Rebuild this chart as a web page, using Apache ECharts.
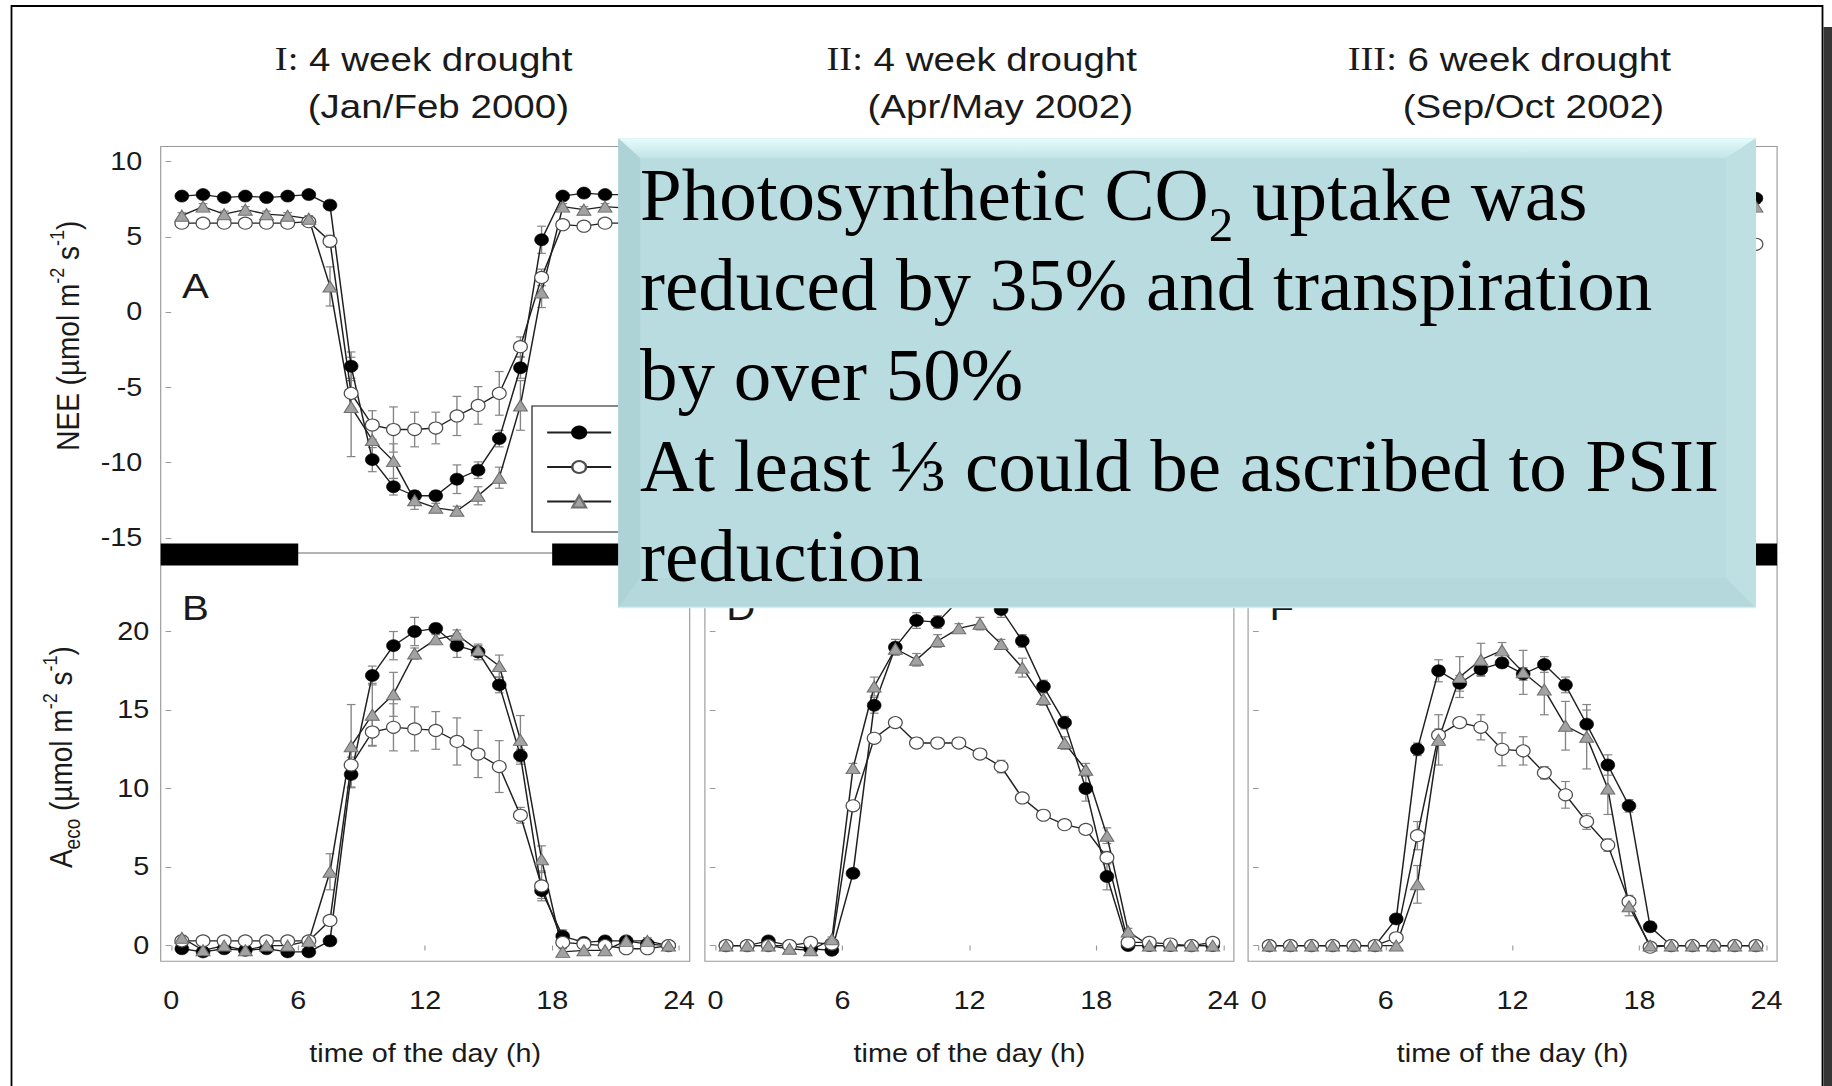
<!DOCTYPE html>
<html>
<head>
<meta charset="utf-8">
<title>Ecosystem CO2 exchange during three drought periods</title>
<script src="https://cdn.jsdelivr.net/npm/echarts@6/dist/echarts.min.js"></script>
<style>
  html, body { margin: 0; padding: 0; background: #fff; width: 1832px; height: 1086px; overflow: hidden; }
  #plot { position: absolute; left: 0; top: 0; height: 1086px; transform-origin: 0 0; }
  #note { position: absolute; left: 0; top: 0; width: 1832px; height: 1086px; }
</style>
</head>
<body>
<div id="plot"></div>
<div id="note"></div>
<script>
// The figure is drawn slightly wider than tall (horizontal stretch of the whole plot).
const STRETCH = 1.15;
const X_MIN = -0.5, X_MAX = 24.5;

// ---- axes / categories ----
const hours = [0.5, 1.5, 2.5, 3.5, 4.5, 5.5, 6.5, 7.5, 8.5, 9.5, 10.5, 11.5,
               12.5, 13.5, 14.5, 15.5, 16.5, 17.5, 18.5, 19.5, 20.5, 21.5, 22.5, 23.5];
const hourTicks = [0, 6, 12, 18, 24];
const neeTicks = [-15, -10, -5, 0, 5, 10];
const aecoTicks = [0, 5, 10, 15, 20];
const neeRange = [-16, 11];
const aecoRange = [-1, 25];
const nightSpans = [[X_MIN, 6], [18, X_MAX]];
const seriesNames = ['before drought', 'drought', 'after rewetting'];
const columnTitles = [
  ['I:', ' 4 week drought', '(Jan/Feb 2000)'],
  ['II:', ' 4 week drought', '(Apr/May 2002)'],
  ['III:', ' 6 week drought', '(Sep/Oct 2002)']
];
// C and E sit entirely under the statement box, so they are not lettered
const panelLetters = [['A', null, null], ['B', 'D', 'F']];
const timeTitle = 'time of the day (h)';

// ---- NEE, Jan/Feb 2000 ----
const neeJanFebPre  = [7.7, 7.8, 7.6, 7.7, 7.6, 7.7, 7.8, 7.1, -3.6, -9.8, -11.6, -12.2, -12.2, -11.1, -10.5, -8.4, -3.7, 4.8, 7.7, 7.9, 7.8, 7.8, 7.7, 7.8];
const neeJanFebDry  = [5.9, 5.9, 5.9, 5.9, 5.9, 5.9, 6.0, 4.7, -5.4, -7.5, -7.8, -7.8, -7.7, -6.9, -6.2, -5.4, -2.3, 2.3, 5.8, 5.7, 5.9, 5.9, 5.8, 5.9];
const neeJanFebPost = [6.4, 7.0, 6.5, 6.8, 6.5, 6.4, 6.2, 1.7, -6.3, -8.5, -9.9, -12.5, -13.0, -13.2, -12.2, -11.0, -6.2, 1.3, 7.0, 6.8, 7.0, 6.9, 6.9, 6.8];
const errNeeJanFebPre  = [0.2, 0.2, 0.2, 0.2, 0.2, 0.2, 0.2, 0.3, 0.95, 0.8, 0.55, 0.3, 0.3, 0.95, 0.55, 0.55, 0.7, 0.9, 0.2, 0.2, 0.2, 0.2, 0.2, 0.2];
const errNeeJanFebDry  = [0.3, 0.3, 0.3, 0.3, 0.3, 0.3, 0.3, 0.4, 1.0, 0.95, 1.5, 1.15, 1.05, 1.3, 1.25, 1.45, 0.65, 0.55, 0.3, 0.3, 0.3, 0.3, 0.3, 0.3];
const errNeeJanFebPost = [0.2, 0.2, 0.2, 0.2, 0.2, 0.2, 0.2, 1.3, 3.3, 1.3, 1.15, 0.6, 0.3, 0.3, 0.6, 0.7, 1.65, 1.0, 0.2, 0.2, 0.2, 0.2, 0.2, 0.2];

// ---- NEE, Apr/May 2002 ----
const neeAprMayPre  = [8.1, 8.0, 7.8, 8.1, 8.2, 8.3, 3.4, -7.3, -11.0, -12.6, -12.5, -13.9, -14.2, -13.3, -11.4, -8.5, -6.2, -2.0, 3.7, 8.0, 8.1, 8.0, 8.1, 8.0];
const neeAprMayDry  = [6.0, 6.0, 6.1, 6.0, 5.8, 5.9, -2.9, -7.1, -8.2, -6.9, -7.0, -6.9, -6.2, -5.4, -3.5, -2.3, -1.7, -1.4, 0.4, 5.8, 5.9, 6.0, 6.0, 5.8];
const neeAprMayPost = [7.0, 7.0, 7.0, 7.2, 7.2, 6.6, -4.3, -9.5, -11.9, -11.2, -12.4, -13.1, -13.5, -12.2, -10.7, -8.6, -5.8, -4.2, 0.0, 6.1, 7.0, 7.0, 7.0, 7.0];
const errNeeAprMayPre  = [0.2, 0.2, 0.2, 0.2, 0.2, 0.2, 0.6, 0.7, 0.6, 0.5, 0.5, 0.6, 0.5, 0.6, 0.5, 0.5, 0.5, 0.6, 0.7, 0.2, 0.2, 0.2, 0.2, 0.2];
const errNeeAprMayDry  = [0.2, 0.2, 0.2, 0.2, 0.2, 0.2, 0.5, 0.4, 0.4, 0.4, 0.3, 0.4, 0.4, 0.5, 0.4, 0.3, 0.3, 0.3, 0.4, 0.2, 0.2, 0.2, 0.2, 0.2];
const errNeeAprMayPost = [0.2, 0.2, 0.2, 0.2, 0.2, 0.2, 0.6, 0.7, 0.5, 0.5, 0.4, 0.4, 0.4, 0.5, 0.6, 0.5, 0.5, 0.6, 0.6, 0.3, 0.2, 0.2, 0.2, 0.2];

// ---- NEE, Sep/Oct 2002 ----
const neeSepOctPre  = [7.6, 7.6, 7.5, 7.6, 7.5, 7.6, 6.0, -4.9, -9.9, -9.1, -10.0, -10.4, -9.7, -10.3, -9.0, -6.5, -3.9, -1.4, 6.3, 7.5, 7.6, 7.5, 7.6, 7.55];
const neeSepOctDry  = [4.6, 4.5, 4.6, 4.5, 4.5, 4.6, 4.1, -2.4, -8.9, -9.6, -9.4, -7.9, -7.8, -6.5, -5.1, -3.4, -1.8, 1.7, 4.6, 4.5, 4.6, 4.5, 4.6, 4.5];
const neeSepOctPost = [7.0, 7.0, 7.1, 7.0, 6.9, 7.0, 7.0, 3.1, -6.1, -10.1, -11.2, -11.8, -10.4, -9.3, -7.0, -6.3, -3.0, 4.5, 7.0, 7.0, 7.1, 7.0, 7.0, 7.0];
const errNeeSepOctPre  = [0.2, 0.2, 0.2, 0.2, 0.2, 0.2, 0.4, 0.8, 0.7, 0.6, 0.5, 0.4, 0.5, 0.5, 0.6, 0.9, 0.7, 0.5, 0.4, 0.2, 0.2, 0.2, 0.2, 0.2];
const errNeeSepOctDry  = [0.2, 0.2, 0.2, 0.2, 0.2, 0.2, 0.3, 0.9, 0.5, 0.4, 0.8, 1.0, 0.9, 0.5, 0.8, 0.5, 0.4, 0.4, 0.3, 0.2, 0.2, 0.2, 0.2, 0.2];
const errNeeSepOctPost = [0.2, 0.2, 0.2, 0.2, 0.2, 0.2, 0.2, 1.2, 1.6, 1.3, 1.0, 0.5, 1.4, 1.6, 1.5, 2.0, 1.6, 0.6, 0.2, 0.2, 0.2, 0.2, 0.2, 0.2];

// ---- Aeco, Jan/Feb 2000 ----
const aecoJanFebPre  = [-0.2, -0.4, -0.2, -0.3, -0.2, -0.4, -0.4, 0.3, 10.9, 17.2, 19.1, 20.0, 20.2, 19.1, 18.7, 16.6, 12.1, 3.5, 0.6, 0.2, 0.3, 0.3, 0.1, 0.0];
const aecoJanFebDry  = [0.3, 0.3, 0.3, 0.3, 0.3, 0.3, 0.3, 1.6, 11.5, 13.6, 13.9, 13.8, 13.7, 13.0, 12.2, 11.4, 8.3, 3.8, 0.2, 0.1, 0.0, -0.2, -0.2, 0.0];
const aecoJanFebPost = [0.5, -0.3, 0.0, -0.3, 0.0, 0.0, 0.3, 4.7, 12.7, 14.7, 16.0, 18.6, 19.5, 19.8, 18.8, 17.8, 13.1, 5.5, -0.4, -0.3, -0.3, 0.3, 0.3, 0.0];
const errAecoJanFebPre  = [0.15, 0.15, 0.15, 0.15, 0.15, 0.15, 0.15, 0.3, 0.8, 0.6, 0.9, 0.9, 0.3, 0.75, 0.5, 0.5, 0.4, 0.5, 0.4, 0.2, 0.2, 0.2, 0.15, 0.15];
const errAecoJanFebDry  = [0.2, 0.2, 0.2, 0.2, 0.2, 0.2, 0.2, 0.3, 0.5, 0.85, 1.5, 1.4, 1.2, 1.5, 1.5, 1.65, 0.5, 0.95, 0.2, 0.2, 0.2, 0.2, 0.2, 0.2];
const errAecoJanFebPost = [0.15, 0.15, 0.15, 0.15, 0.15, 0.15, 0.15, 1.15, 2.65, 2.0, 1.4, 0.35, 0.3, 0.3, 0.3, 0.7, 1.55, 0.85, 0.2, 0.2, 0.2, 0.2, 0.2, 0.15];

// ---- Aeco, Apr/May 2002 ----
const aecoAprMayPre  = [0.0, 0.0, 0.3, 0.0, -0.2, -0.3, 4.6, 15.3, 19.0, 20.7, 20.6, 22.0, 22.3, 21.4, 19.4, 16.5, 14.2, 10.0, 4.4, 0.0, 0.0, 0.0, 0.0, 0.0];
const aecoAprMayDry  = [0.0, 0.0, 0.0, 0.0, 0.2, 0.1, 8.9, 13.2, 14.2, 12.9, 12.9, 12.9, 12.2, 11.4, 9.4, 8.3, 7.7, 7.4, 5.6, 0.2, 0.2, 0.1, 0.0, 0.2];
const aecoAprMayPost = [0.0, 0.0, 0.0, -0.2, -0.3, 0.4, 11.3, 16.5, 18.9, 18.2, 19.4, 20.2, 20.5, 19.2, 17.7, 15.7, 12.9, 11.2, 7.0, 0.9, 0.0, 0.0, 0.0, 0.0];
const errAecoAprMayPre  = [0.15, 0.15, 0.15, 0.15, 0.15, 0.15, 0.3, 0.5, 0.5, 0.5, 0.4, 0.4, 0.4, 0.5, 0.4, 0.4, 0.4, 0.8, 0.85, 0.15, 0.15, 0.15, 0.15, 0.15];
const errAecoAprMayDry  = [0.15, 0.15, 0.15, 0.15, 0.15, 0.15, 0.3, 0.3, 0.3, 0.3, 0.3, 0.3, 0.3, 0.4, 0.3, 0.3, 0.3, 0.3, 0.4, 0.15, 0.15, 0.15, 0.15, 0.15];
const errAecoAprMayPost = [0.15, 0.15, 0.15, 0.15, 0.15, 0.15, 0.3, 0.6, 0.4, 0.4, 0.4, 0.3, 0.4, 0.3, 0.6, 0.4, 0.4, 0.4, 0.5, 0.2, 0.15, 0.15, 0.15, 0.15];

// ---- Aeco, Sep/Oct 2002 ----
const aecoSepOctPre  = [0.0, 0.0, 0.0, 0.0, 0.0, 0.0, 1.7, 12.5, 17.5, 16.7, 17.6, 18.0, 17.3, 17.9, 16.6, 14.1, 11.5, 8.9, 1.2, 0.0, 0.0, 0.0, 0.0, 0.0];
const aecoSepOctDry  = [0.0, 0.0, 0.0, 0.0, 0.0, 0.0, 0.5, 7.0, 13.4, 14.2, 13.9, 12.5, 12.4, 11.0, 9.6, 7.9, 6.4, 2.8, -0.1, 0.0, 0.0, 0.0, 0.0, 0.0];
const aecoSepOctPost = [0.0, 0.0, 0.0, 0.0, 0.0, 0.0, 0.0, 3.9, 13.1, 17.1, 18.2, 18.8, 17.4, 16.3, 14.0, 13.3, 10.0, 2.5, 0.0, 0.0, 0.0, 0.0, 0.0, 0.0];
const errAecoSepOctPre  = [0.1, 0.1, 0.1, 0.1, 0.1, 0.1, 0.3, 0.4, 0.7, 0.5, 0.4, 0.3, 0.4, 0.5, 0.5, 0.9, 0.65, 0.4, 0.3, 0.1, 0.1, 0.1, 0.1, 0.1];
const errAecoSepOctDry  = [0.1, 0.1, 0.1, 0.1, 0.1, 0.1, 0.3, 0.9, 0.4, 0.3, 0.8, 1.05, 0.9, 0.4, 0.85, 0.5, 0.4, 0.4, 0.2, 0.1, 0.1, 0.1, 0.1, 0.1];
const errAecoSepOctPost = [0.1, 0.1, 0.1, 0.1, 0.1, 0.1, 0.2, 1.2, 1.6, 1.3, 1.05, 0.5, 1.4, 1.6, 1.55, 2.05, 1.65, 0.6, 0.2, 0.1, 0.1, 0.1, 0.1, 0.1];

// ---- the boxed statement laid over the figure ----
const noteHead = ['Photosynthetic CO', '2', ' uptake was'];
const noteLines = [
  'reduced by 35% and transpiration',
  'by over 50%',
  'At least \u2153 could be ascribed to PSII',
  'reduction'
];

// ---- page geometry (screen pixels) ----
const colLeft = [160.7, 704.9, 1248.1];
const colWidth = 529;
const rowTop = [146.4, 553];
const rowHeight = [406.6, 408.3];
const sx = v => v / STRETCH;

const panels = [
  { row: 0, col: 0, vals: [neeJanFebPre, neeJanFebDry, neeJanFebPost], errs: [errNeeJanFebPre, errNeeJanFebDry, errNeeJanFebPost] },
  { row: 0, col: 1, vals: [neeAprMayPre, neeAprMayDry, neeAprMayPost], errs: [errNeeAprMayPre, errNeeAprMayDry, errNeeAprMayPost] },
  { row: 0, col: 2, vals: [neeSepOctPre, neeSepOctDry, neeSepOctPost], errs: [errNeeSepOctPre, errNeeSepOctDry, errNeeSepOctPost] },
  { row: 1, col: 0, vals: [aecoJanFebPre, aecoJanFebDry, aecoJanFebPost], errs: [errAecoJanFebPre, errAecoJanFebDry, errAecoJanFebPost] },
  { row: 1, col: 1, vals: [aecoAprMayPre, aecoAprMayDry, aecoAprMayPost], errs: [errAecoAprMayPre, errAecoAprMayDry, errAecoAprMayPost] },
  { row: 1, col: 2, vals: [aecoSepOctPre, aecoSepOctDry, aecoSepOctPost], errs: [errAecoSepOctPre, errAecoSepOctDry, errAecoSepOctPost] }
];

const SANS = 'Liberation Sans, Arial, sans-serif';
const SERIF = 'Liberation Serif, Times New Roman, serif';
const INK = '#1a1a1a';
const FRAME = '#9a9a9a';
const ERR = '#858585';

const looks = [
  { symbol: 'circle', symbolSize: 12, itemStyle: { color: '#000', borderColor: '#000', borderWidth: 0.6 } },
  { symbol: 'circle', symbolSize: 12, itemStyle: { color: '#fff', borderColor: '#4d4d4d', borderWidth: 1.1 } },
  { symbol: 'triangle', symbolSize: [12, 11], itemStyle: { color: '#a2a2a2', borderColor: '#6e6e6e', borderWidth: 1 } }
];

const plotEl = document.getElementById('plot');
plotEl.style.width = (1832 / STRETCH) + 'px';
plotEl.style.transform = 'scaleX(' + STRETCH + ')';

const grids = [], xAxes = [], yAxes = [], series = [], graphics = [];

const neeName = '{t|NEE (\u00b5mol m}{p|-2}{t| s}{p|-1}{t|)}';
const aecoName = '{t|A}{b|eco}{t| (\u00b5mol m}{p|-2}{t| s}{p|-1}{t|)}';
const nameRich = {
  t: { fontSize: 28, lineHeight: 38, fontFamily: SANS, color: INK, verticalAlign: 'middle' },
  p: { fontSize: 18, lineHeight: 18, fontFamily: SANS, color: INK, verticalAlign: 'top' },
  b: { fontSize: 19, lineHeight: 19, fontFamily: SANS, color: INK, verticalAlign: 'bottom' }
};

function errorBars(params, api) {
  const x = api.value(0), y = api.value(1), e = api.value(2);
  const lo = api.coord([x, y - e]);
  const hi = api.coord([x, y + e]);
  const cap = 3.8;
  const st = { stroke: ERR, lineWidth: 1.2 };
  return {
    type: 'group',
    children: [
      { type: 'line', shape: { x1: lo[0], y1: lo[1], x2: hi[0], y2: hi[1] }, style: st },
      { type: 'line', shape: { x1: lo[0] - cap, y1: lo[1], x2: lo[0] + cap, y2: lo[1] }, style: st },
      { type: 'line', shape: { x1: hi[0] - cap, y1: hi[1], x2: hi[0] + cap, y2: hi[1] }, style: st }
    ]
  };
}

// black bars marking the dark hours, straddling the shared border of the two rows
function nightBar(params, api) {
  const a = api.coord([api.value(0), neeRange[0]]);
  const b = api.coord([api.value(1), neeRange[0]]);
  return { type: 'rect', shape: { x: a[0], y: a[1] - 9.5, width: b[0] - a[0], height: 22 }, style: { fill: '#000' } };
}

panels.forEach((p, g) => {
  const isTop = p.row === 0;
  const range = isTop ? neeRange : aecoRange;
  const ticks = isTop ? neeTicks : aecoTicks;
  grids.push({
    left: sx(colLeft[p.col]), top: rowTop[p.row],
    width: sx(colWidth), height: rowHeight[p.row],
    show: true, borderColor: FRAME, borderWidth: 1, backgroundColor: 'transparent',
    containLabel: false, outerBoundsMode: 'none'
  });
  xAxes.push({
    type: 'value', gridIndex: g, min: X_MIN, max: X_MAX,
    axisLine: { show: false }, splitLine: { show: false },
    axisTick: isTop ? { show: false } : { show: true, customValues: hourTicks, length: 5, lineStyle: { color: FRAME, width: 1 } },
    axisLabel: isTop ? { show: false } : { show: true, customValues: hourTicks, margin: 27, fontSize: 25, color: INK, fontFamily: SANS },
    name: isTop ? '' : timeTitle, nameLocation: 'middle', nameGap: 80, nameMoveOverlap: false,
    nameTextStyle: { fontSize: 25, color: INK, fontFamily: SANS }
  });
  yAxes.push({
    type: 'value', gridIndex: g, min: range[0], max: range[1],
    axisLine: { show: false }, splitLine: { show: false },
    axisTick: { show: true, customValues: ticks, length: 5, lineStyle: { color: FRAME, width: 1 } },
    axisLabel: { show: p.col === 0, customValues: ticks, margin: isTop ? 16 : 10, fontSize: 25, color: INK, fontFamily: SANS },
    name: p.col === 0 ? (isTop ? neeName : aecoName) : '',
    nameLocation: 'middle', nameRotate: 90, nameGap: isTop ? 62 : 68, nameMoveOverlap: false,
    nameTextStyle: { rich: nameRich, padding: isTop ? [0, 0, 0, 28] : [0, 0, 0, 0] }
  });

  if (isTop) {
    series.push({
      type: 'custom', name: 'night', xAxisIndex: g, yAxisIndex: g, clip: false, silent: true,
      data: nightSpans, encode: { x: [0, 1] }, renderItem: nightBar, z: 5
    });
  }
  p.vals.forEach((vals, k) => {
    series.push({
      type: 'custom', xAxisIndex: g, yAxisIndex: g, silent: true, clip: false,
      dimensions: ['hour', 'value', 'se'],
      data: hours.map((h, i) => [h, vals[i], p.errs[k][i]]),
      encode: { x: 0, y: 1 }, renderItem: errorBars, z: 2
    });
  });
  p.vals.forEach((vals, k) => {
    series.push(Object.assign({
      type: 'line', name: seriesNames[k], xAxisIndex: g, yAxisIndex: g,
      data: hours.map((h, i) => [h, vals[i]]),
      showSymbol: true, showAllSymbol: true, clip: false,
      lineStyle: { color: '#202020', width: 1.3 },
      emphasis: { disabled: true }, z: 3
    }, looks[k]));
  });

  const letter = panelLetters[p.row][p.col];
  if (letter) {
    graphics.push({
      type: 'text', z: 10,
      x: sx(colLeft[p.col]) + 18.5,
      y: rowTop[p.row] + (isTop ? 122 : 37.5),
      style: { text: letter, fontSize: 35, lineHeight: 35, fontFamily: SANS, fill: INK, verticalAlign: 'top' }
    });
  }
});

// column headings
const titleRight = [[572.5, 569], [1137, 1133], [1671, 1664]];
columnTitles.forEach((t, c) => {
  graphics.push({
    type: 'text', z: 10, x: sx(titleRight[c][0]), y: 59,
    style: {
      text: '{r|' + t[0] + '}{s|' + t[1] + '}', align: 'right', verticalAlign: 'middle',
      rich: {
        r: { fontSize: 33.5, fontFamily: SERIF, fill: INK },
        s: { fontSize: 33.5, fontFamily: SANS, fill: INK }
      }
    }
  });
  graphics.push({
    type: 'text', z: 10, x: sx(titleRight[c][1]), y: 106,
    style: { text: t[2], align: 'right', verticalAlign: 'middle', fontSize: 33.5, fontFamily: SANS, fill: INK }
  });
});

const plot = echarts.init(plotEl, null, { renderer: 'svg' });
plot.setOption({
  animation: false,
  backgroundColor: 'transparent',
  grid: grids,
  xAxis: xAxes,
  yAxis: yAxes,
  legend: {
    // the key's labels lie under the statement box; only the symbols and the frame show
    data: seriesNames, orient: 'vertical', selectedMode: false,
    left: sx(532), top: 406,
    itemWidth: sx(64), itemHeight: 15, itemGap: 20.5,
    padding: [19.5, 40, 23.5, sx(14)],
    formatter: () => '',
    borderColor: '#111', borderWidth: 1, backgroundColor: '#fff',
    textStyle: { fontSize: 1, lineHeight: 1, color: INK, fontFamily: SANS }
  },
  graphic: graphics,
  series: series
});

// ---- statement box and slide frame, drawn unstretched on top ----
const box = { x0: 618.3, y0: 138.3, x1: 1756, y1: 608 };
const bev = { top: 20, left: 22, right: 30, bottom: 30 };
const NOTE_SIZE = 75, NOTE_SUB = 49, NOTE_LEFT = 640, NOTE_FIRST = 194.5, NOTE_STEP = 90.2;
const NOTE_LINE_BOX = 68;

const meas = document.createElement('canvas').getContext('2d');
meas.font = NOTE_SIZE + 'px "Liberation Serif"';
const headW = meas.measureText(noteHead[0]).width;
meas.font = NOTE_SUB + 'px "Liberation Serif"';
const subW = meas.measureText(noteHead[1]).width;

const noteStyle = { fontSize: NOTE_SIZE, lineHeight: NOTE_LINE_BOX, fontFamily: SERIF, fill: '#000', verticalAlign: 'middle' };
const noteText = [
  { type: 'text', x: NOTE_LEFT, y: NOTE_FIRST, style: Object.assign({ text: noteHead[0] }, noteStyle) },
  { type: 'text', x: NOTE_LEFT + headW, y: NOTE_FIRST + 30,
    style: { text: noteHead[1], fontSize: NOTE_SUB, lineHeight: 30, fontFamily: SERIF, fill: '#000', verticalAlign: 'middle' } },
  { type: 'text', x: NOTE_LEFT + headW + subW, y: NOTE_FIRST, style: Object.assign({ text: noteHead[2] }, noteStyle) }
].concat(noteLines.map((line, i) => ({
  type: 'text', x: NOTE_LEFT, y: NOTE_FIRST + NOTE_STEP * (i + 1),
  style: Object.assign({ text: line }, noteStyle)
})));

const note = echarts.init(document.getElementById('note'), null, { renderer: 'svg' });
note.setOption({
  animation: false,
  backgroundColor: 'transparent',
  graphic: [
    // slide frame and its shadow
    { type: 'polyline', shape: { points: [[11.5, 1090], [11.5, 6], [1822.5, 6], [1822.5, 1090]] }, style: { stroke: '#000', lineWidth: 1.8, fill: null } },
    { type: 'rect', shape: { x: 1823.5, y: 27, width: 9, height: 1060 }, style: { fill: '#363636' } },
    // bevelled teal box
    { type: 'rect', shape: { x: box.x0, y: box.y0, width: box.x1 - box.x0, height: box.y1 - box.y0 }, style: { fill: '#b8dcdf' } },
    { type: 'polygon', shape: { points: [[box.x0, box.y0], [box.x1, box.y0], [box.x1 - bev.right, box.y0 + bev.top], [box.x0 + bev.left, box.y0 + bev.top]] },
      style: { fill: new echarts.graphic.LinearGradient(0, 0, 0, 1, [{ offset: 0, color: '#e6fbfc' }, { offset: 1, color: '#c3e4e7' }]) } },
    { type: 'polygon', shape: { points: [[box.x0, box.y0], [box.x0 + bev.left, box.y0 + bev.top], [box.x0 + bev.left, box.y1 - bev.bottom], [box.x0, box.y1]] },
      style: { fill: '#aed3d7' } },
    { type: 'polygon', shape: { points: [[box.x1, box.y0], [box.x1, box.y1], [box.x1 - bev.right, box.y1 - bev.bottom], [box.x1 - bev.right, box.y0 + bev.top]] },
      style: { fill: '#bee0e3' } },
    { type: 'polygon', shape: { points: [[box.x0, box.y1], [box.x1, box.y1], [box.x1 - bev.right, box.y1 - bev.bottom], [box.x0 + bev.left, box.y1 - bev.bottom]] },
      style: { fill: '#b4d8db' } },
    { type: 'line', shape: { x1: box.x0, y1: box.y1 - 0.5, x2: box.x1, y2: box.y1 - 0.5 }, style: { stroke: '#d2f0f1', lineWidth: 1.5 } }
  ].concat(noteText)
});
</script>
</body>
</html>
